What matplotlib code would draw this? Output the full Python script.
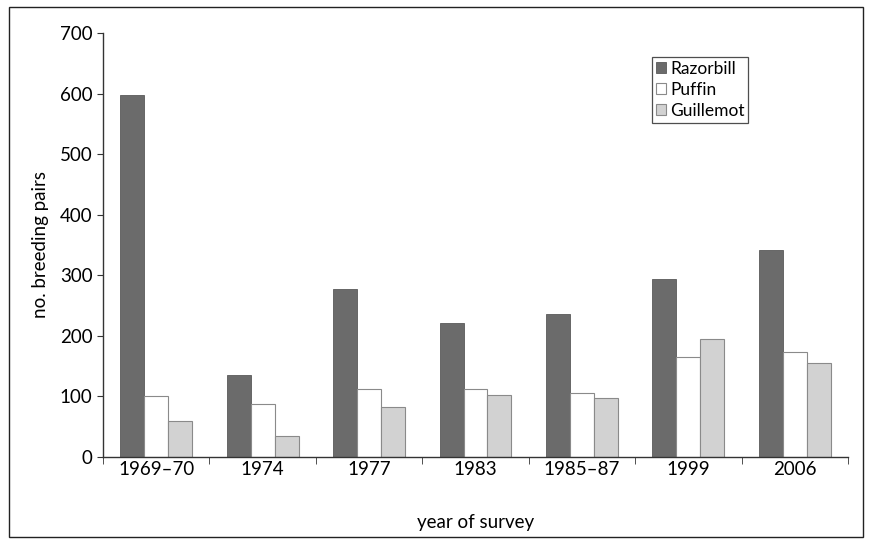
import matplotlib
matplotlib.use("Agg")
import matplotlib.pyplot as plt
import numpy as np
from matplotlib.patches import Rectangle

years = ["1969–70", "1974", "1977", "1983", "1985–87", "1999", "2006"]
razorbill = [597, 135, 278, 222, 236, 294, 341]
puffin = [100, 88, 113, 113, 105, 165, 174]
guillemot = [60, 35, 83, 102, 98, 195, 155]

plt.rcParams['font.family'] = ['Lato', 'DejaVu Sans']

fig = plt.figure(figsize=(8.7, 5.4), dpi=100)
ax = fig.add_axes([0.1184, 0.1537, 0.8563, 0.7852])

x = np.arange(len(years))
w = 0.225
ax.bar(x - w, razorbill, w, color="#6b6b6b", edgecolor="#5a5a5a", linewidth=0.6, label="Razorbill")
ax.bar(x, puffin, w, color="white", edgecolor="#8a8a8a", linewidth=0.8, label="Puffin")
ax.bar(x + w, guillemot, w, color="#d2d2d2", edgecolor="#8a8a8a", linewidth=0.8, label="Guillemot")

ax.set_xlim(-0.5, len(years) - 0.5)
ax.set_ylim(0, 700)
ax.set_yticks(range(0, 701, 100))
ax.set_xticks(x)
ax.set_xticklabels(years)
ax.set_xticks(np.arange(len(years) + 1) - 0.5, minor=True)
ax.tick_params(axis="x", which="major", length=0, pad=3, labelsize=13.5)
ax.tick_params(axis="x", which="minor", length=5, direction="out", color="#333333")
ax.tick_params(axis="y", length=4, labelsize=13.5, color="#333333")

for s in ["top", "right"]:
    ax.spines[s].set_visible(False)
for s in ["left", "bottom"]:
    ax.spines[s].set_color("#333333")
    ax.spines[s].set_linewidth(1.0)

ax.set_ylabel("no. breeding pairs", fontsize=13.5, labelpad=8)
ax.set_xlabel("year of survey", fontsize=13.5, labelpad=26)

leg = ax.legend(loc="upper left", bbox_to_anchor=(0.737, 0.943), fontsize=12.5,
                frameon=True, fancybox=False, handlelength=0.6, handleheight=0.6,
                handletextpad=0.25, borderpad=0.2, labelspacing=0.3, borderaxespad=0)
leg.get_frame().set_edgecolor("#222222")
leg.get_frame().set_linewidth(0.9)

# outer frame around the figure
fig.patches.append(Rectangle((9 / 870, 3 / 540), 854 / 870, 530 / 540,
                             transform=fig.transFigure, fill=False,
                             edgecolor="#222222", linewidth=1.0))

fig.savefig("out.png", dpi=100)
